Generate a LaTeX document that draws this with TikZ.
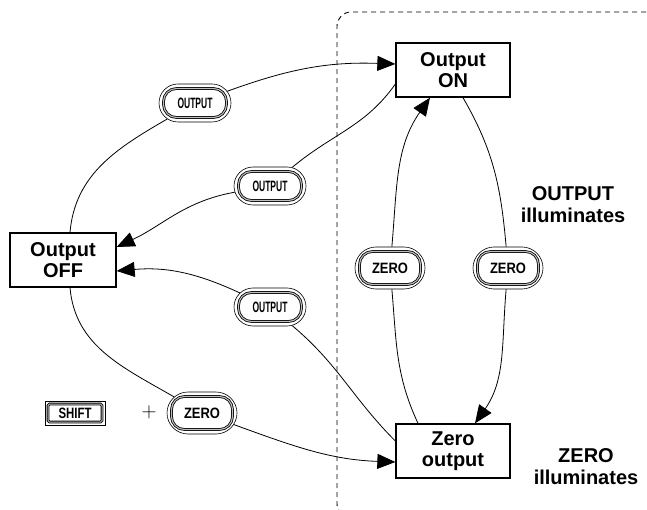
\documentclass[tikz,border=0pt]{standalone}
\usepackage{fontspec}
\setmainfont{Liberation Sans}
\usepackage{graphicx}
\usetikzlibrary{arrows.meta,shapes.misc,calc}
\tikzstyle{statebox}=[rectangle,draw,line width=1.3pt,fill=white,minimum width=114pt,minimum height=54pt,inner sep=0pt,align=center,font=\bfseries\fontsize{20}{21}\selectfont]
\tikzstyle{keypill}=[rounded rectangle,draw,line width=0.6pt,fill=white,minimum width=72pt,minimum height=38pt,inner sep=0pt,font=\bfseries\fontsize{15}{15}\selectfont,
   path picture={\draw[line width=0.8pt,double=gray!50,double distance=1.1pt,rounded corners=13pt] ($(path picture bounding box.south west)+(4.5pt,4.5pt)$) rectangle ($(path picture bounding box.north east)-(4.5pt,4.5pt)$);}]
\tikzstyle{keyrect}=[rectangle,draw,line width=0.6pt,fill=white,minimum width=60pt,minimum height=24pt,inner sep=0pt,font=\bfseries\fontsize{15}{15}\selectfont,
   path picture={\draw[line width=0.8pt,double=gray!50,double distance=1pt,rounded corners=1.5pt] ($(path picture bounding box.south west)+(3pt,3pt)$) rectangle ($(path picture bounding box.north east)-(3pt,3pt)$);}]
\tikzstyle{edge} = [draw,line width=0.8pt,-{Triangle[length=18pt,width=15pt]}]
\tikzstyle{plainedge} = [draw,line width=0.8pt]
\tikzstyle{note} = [align=center,font=\bfseries\fontsize{20}{22}\selectfont]
\newcommand{\keytxt}[2]{\resizebox{#1}{\height}{#2}}

\begin{document}
\begin{tikzpicture}[x=1pt,y=1pt]
\useasboundingbox (0,0) rectangle (647,-510);

% frame round the right part
\draw[line width=0.9pt,dash pattern=on 5pt off 4pt,rounded corners=14pt] (700,-12) -- (337,-12) -- (337,-518) -- (700,-518);

% states
\node[statebox] (on) at (453,-70) {Output\\ON};
\node[statebox,minimum width=106pt] (off) at (63,-260) {Output\\OFF};
\node[statebox] (zout) at (453,-451) {Zero\\output};

% keys
\foreach \pos/\name/\txt in {{(195,-103)/bA/OUTPUT}, {(270,-186)/bB/OUTPUT}, {(270,-307)/bC/OUTPUT}}
    \node[keypill] (\name) at \pos {\keytxt{35pt}{\txt}};
\foreach \pos/\name/\txt in {{(390,-268)/zA/ZERO}, {(508,-268)/zB/ZERO}, {(202,-413)/zC/ZERO}}
    \node[keypill,minimum width=70pt,minimum height=42pt] (\name) at \pos {\keytxt{36pt}{\txt}};
\node[keyrect] (shift) at (75,-413) {\keytxt{33pt}{SHIFT}};
\node[font=\fontsize{22}{22}\selectfont] (plus) at (149,-412) {$+$};

% connectors
\coordinate (onA) at ([yshift=6pt]on.west);
\coordinate (onB) at ([yshift=-14pt]on.west);
\coordinate (onC) at ([xshift=-23pt]on.south);
\coordinate (onD) at ([xshift=10pt]on.south);
\coordinate (offA) at ([xshift=7pt]off.north);
\coordinate (offB) at ([yshift=13pt]off.east);
\coordinate (offC) at ([yshift=-11pt]off.east);
\coordinate (offD) at ([xshift=7pt]off.south);
\coordinate (zoA) at ([yshift=10pt]zout.west);
\coordinate (zoB) at ([yshift=-11pt]zout.west);
\coordinate (zoC) at ([xshift=-35pt]zout.north);
\coordinate (zoD) at ([xshift=22pt]zout.north);

\path[plainedge] (offA) to[out=85,in=210] (bA);
\path[edge] (bA) to[out=20,in=178] (onA);
\path[plainedge] (onB) to[out=235,in=40] (bB);
\path[edge] (bB) to[out=190,in=25] (offB);
\path[plainedge] (zoA) to[out=135,in=-40] (bC);
\path[edge] (bC) to[out=155,in=5] (offC);
\path[plainedge] (offD) to[out=-85,in=150] (zC);
\path[edge] (zC) to[out=-20,in=178] (zoB);
\path[plainedge] (zoC) to[out=115,in=-85] (zA);
\path[edge] (zA) to[out=85,in=235] (onC);
\path[plainedge] (onD) to[out=-60,in=95] (zB);
\path[edge] (zB) to[out=-95,in=55] (zoD);

% labels
\node[note] (lampA) at (573,-205) {OUTPUT\\illuminates};
\node[note] (lampB) at (586,-467) {ZERO\\illuminates};

\end{tikzpicture}
\end{document}
